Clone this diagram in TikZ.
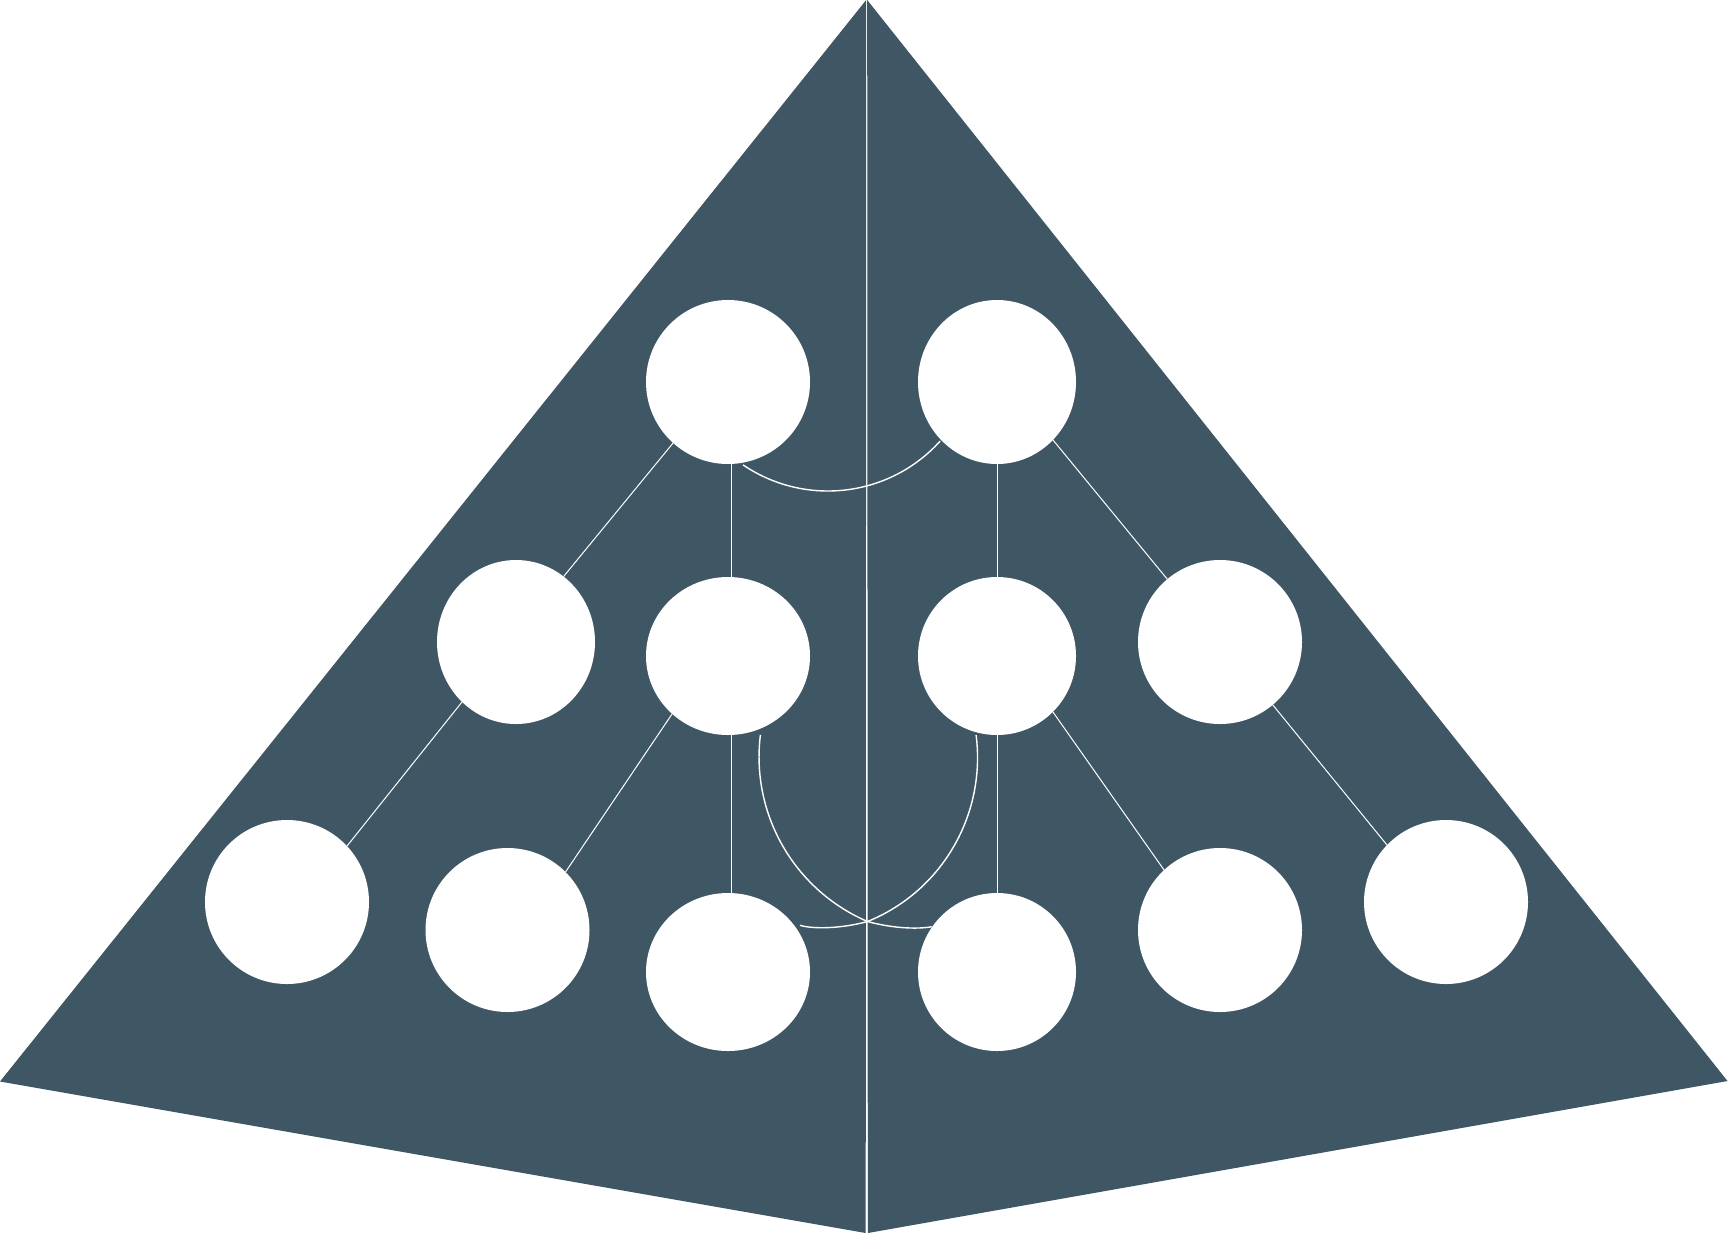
\documentclass[tikz,border=0pt]{standalone}
\usetikzlibrary{shapes.geometric}
\definecolor{slate}{RGB}{63,87,100}
\begin{document}
\begin{tikzpicture}[x=0.5pt,y=-0.5pt,
  hole/.style={ellipse,fill=white,draw=none,inner sep=0pt,outer sep=0pt},
  link/.style={white,line width=0.5pt},
  curve/.style={white,line width=0.7pt}]
\useasboundingbox (0,0) rectangle (1728,1233);
% two halves of the pyramid
\fill[slate] (0,1081.5) -- (866.2,0) -- (865.7,1233) -- cycle;
\fill[slate] (867.2,0) -- (1727.5,1081) -- (867.8,1233) -- cycle;
% holes
\node[hole,minimum width=82pt,minimum height=82pt] (TL)  at (728,382) {};
\node[hole,minimum width=79pt,minimum height=82pt] (TR)  at (997,382) {};
\node[hole,minimum width=79pt,minimum height=82pt] (MLL) at (516,642) {};
\node[hole,minimum width=82pt,minimum height=79pt] (MCL) at (728,656) {};
\node[hole,minimum width=79pt,minimum height=79pt] (MCR) at (997,656) {};
\node[hole,minimum width=82pt,minimum height=82pt] (MR)  at (1220,642) {};
\node[hole,minimum width=82pt,minimum height=82pt] (BLL) at (287,902) {};
\node[hole,minimum width=82pt,minimum height=82pt] (BLM) at (507.5,930) {};
\node[hole,minimum width=82pt,minimum height=79pt] (BLC) at (728,972) {};
\node[hole,minimum width=79pt,minimum height=79pt] (BRC) at (997,972) {};
\node[hole,minimum width=82pt,minimum height=82pt] (BRM) at (1220,930) {};
\node[hole,minimum width=82pt,minimum height=82pt] (BRR) at (1446,902) {};
% straight links
\draw[link] ([xshift=1.5pt]TL.south) -- ([xshift=1.5pt]MCL.north);
\draw[link] (TL.228) -- (MLL.54);
\draw[link] (MLL.228) -- (BLL.43);
\draw[link] (MCL.226) -- (BLM.45);
\draw[link] ([xshift=1.5pt]MCL.south) -- ([xshift=1.5pt]BLC.north);
\draw[link] (TR.south) -- (MCR.north);
\draw[link] (TR.314) -- (MR.130);
\draw[link] (MR.310) -- (BRR.136);
\draw[link] (MCR.315) -- (BRM.133.5);
\draw[link] (MCR.south) -- (BRC.north);
% curved links
\coordinate (X) at (867.5,921.5);
\coordinate (a1) at (743.1,464.9);
\coordinate (a2) at (940.2,441);
\draw[curve] (a1) .. controls (805.5,507.3) and (889.7,497.1) .. (a2);
\coordinate (b1) at (760.4,734.9);
\draw[curve] (b1) .. controls (750.6,813.9) and (794.1,889.9) .. (X);
\coordinate (c1) at (976.1,735.1);
\draw[curve] (c1) .. controls (986.2,814.8) and (941.9,891.4) .. (X);
\coordinate (d1) at (800,925.3);
\draw[curve] (d1) .. controls (812,929) and (840,929) .. (X);
\coordinate (e1) at (931.7,926.7);
\draw[curve] (X) .. controls (895,929) and (920,929) .. (e1);
\end{tikzpicture}
\end{document}
